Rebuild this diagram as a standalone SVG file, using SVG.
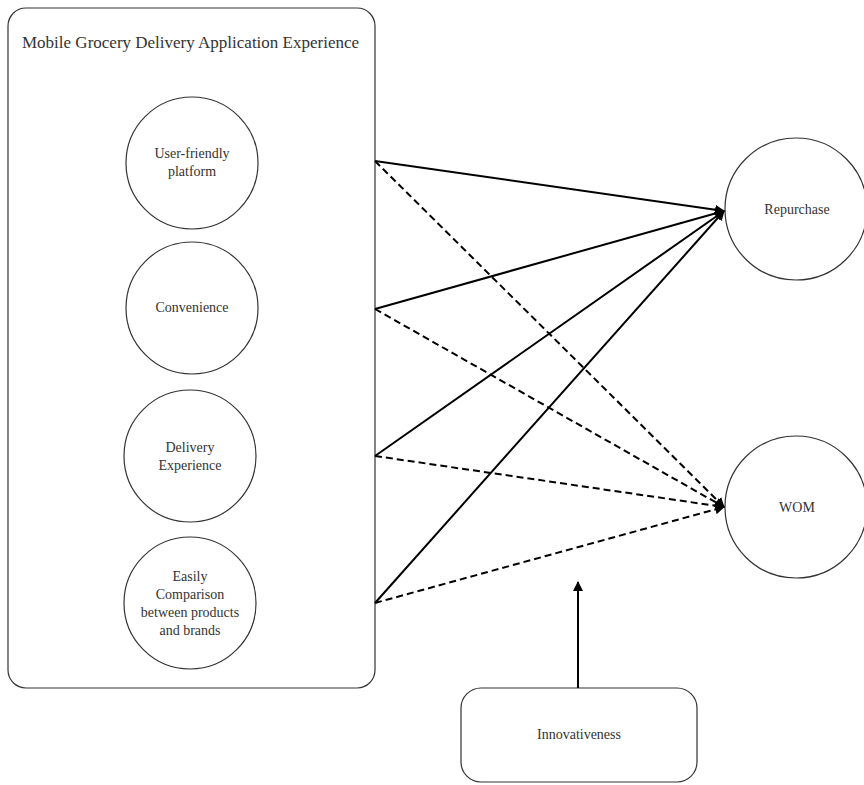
<svg xmlns="http://www.w3.org/2000/svg" width="864" height="785" viewBox="0 0 864 785">
<style>
.box{fill:#fff;stroke:#333;stroke-width:1.2}
.c{fill:#fff;stroke:#333;stroke-width:1.2}
.t{font-family:"Liberation Serif","Times New Roman",serif;font-size:14px;fill:#333;text-anchor:middle}
.title{font-family:"Liberation Serif","Times New Roman",serif;font-size:17px;fill:#333}
.s{stroke:#000;stroke-width:2;fill:none}
.d{stroke:#000;stroke-width:2;fill:none;stroke-dasharray:7,4}
</style>
<defs>
<marker id="ah" viewBox="0 0 10 10" refX="9" refY="5" markerWidth="5" markerHeight="5" orient="auto" markerUnits="strokeWidth">
<path d="M0,0 L10,5 L0,10 z" fill="#000"/>
</marker>
</defs>
<rect width="864" height="785" fill="#fff"/>
<g id="mgda">
<rect class="box" x="8" y="8" width="367" height="680" rx="18"/>
<text class="title" x="22" y="48">Mobile Grocery Delivery Application Experience</text>
</g>
<g id="user-friendly">
<circle class="c" cx="192" cy="163" r="66"/>
<text class="t" x="192" y="158">User-friendly</text>
<text class="t" x="192" y="176">platform</text>
</g>
<g id="convenience">
<circle class="c" cx="192" cy="308" r="66"/>
<text class="t" x="192" y="312">Convenience</text>
</g>
<g id="delivery">
<circle class="c" cx="190" cy="456" r="66"/>
<text class="t" x="190" y="452">Delivery</text>
<text class="t" x="190" y="470">Experience</text>
</g>
<g id="comparison">
<circle class="c" cx="190" cy="603" r="66"/>
<text class="t" x="190" y="581">Easily</text>
<text class="t" x="190" y="599">Comparison</text>
<text class="t" x="190" y="617">between products</text>
<text class="t" x="190" y="635">and brands</text>
</g>
<g id="repurchase">
<circle class="c" cx="796" cy="209" r="71"/>
<text class="t" x="797" y="214">Repurchase</text>
</g>
<g id="wom">
<circle class="c" cx="796" cy="507" r="71"/>
<text class="t" x="797" y="512">WOM</text>
</g>
<g id="innovativeness">
<rect class="box" x="461" y="688" width="236" height="94" rx="20"/>
<text class="t" x="579" y="739">Innovativeness</text>
</g>
<g id="connectors">
<line class="s" x1="375" y1="161" x2="724" y2="211" marker-end="url(#ah)"/>
<line class="s" x1="375" y1="309" x2="724" y2="211" marker-end="url(#ah)"/>
<line class="s" x1="375" y1="456" x2="724" y2="211" marker-end="url(#ah)"/>
<line class="s" x1="375" y1="603" x2="724" y2="211" marker-end="url(#ah)"/>
<line class="d" x1="375" y1="161" x2="724" y2="507" marker-end="url(#ah)"/>
<line class="d" x1="375" y1="309" x2="724" y2="507" marker-end="url(#ah)"/>
<line class="d" x1="375" y1="456" x2="724" y2="507" marker-end="url(#ah)"/>
<line class="d" x1="375" y1="603" x2="724" y2="507" marker-end="url(#ah)"/>
<line class="s" x1="578" y1="688" x2="578" y2="582" marker-end="url(#ah)"/>
</g>
</svg>
